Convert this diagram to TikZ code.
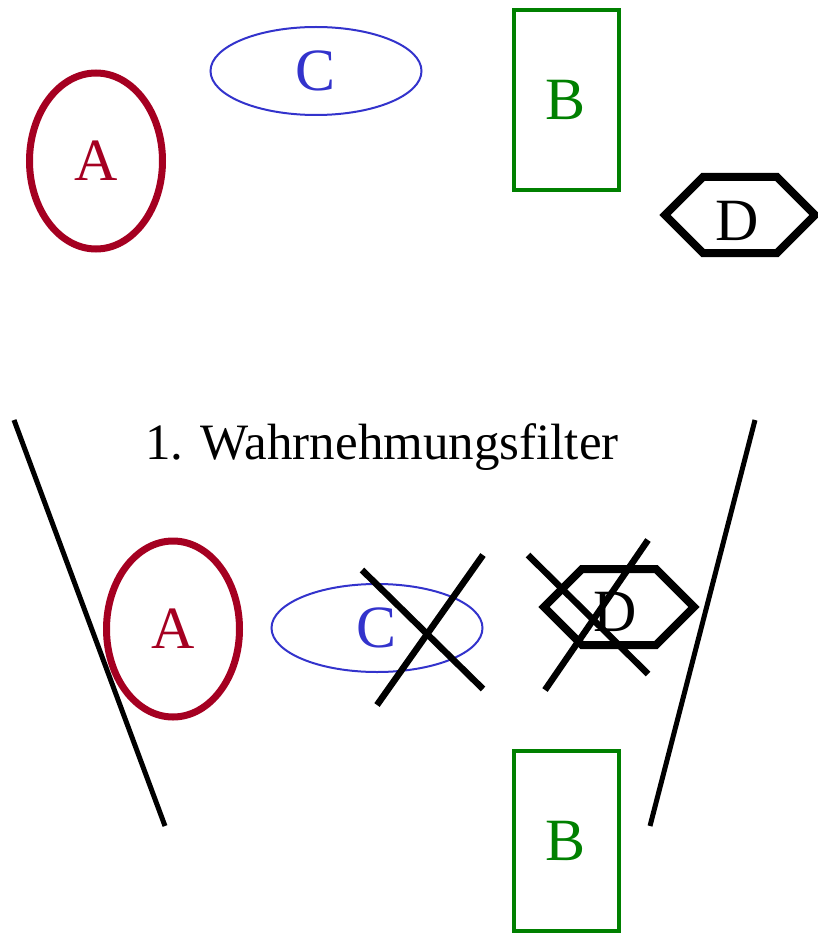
\documentclass[tikz,border=0pt]{standalone}
\usepackage{fontspec}
\setmainfont{Liberation Serif}
\usetikzlibrary{shapes.geometric}
\definecolor{ared}{HTML}{A50021}
\definecolor{cblue}{HTML}{3333CC}
\definecolor{bgreen}{HTML}{008000}
\tikzset{
  lbl/.style={font=\fontsize{60}{60}\selectfont, inner sep=0pt},
  ashape/.style={ellipse, draw=ared, line width=7pt, minimum width=133pt, minimum height=176pt, text=ared, lbl},
  cshape/.style={ellipse, draw=cblue, line width=2pt, minimum width=211pt, minimum height=88pt, text=cblue, lbl},
  bshape/.style={rectangle, draw=bgreen, line width=4pt, minimum width=105pt, minimum height=180pt, text=bgreen, lbl},
  hexline/.style={line width=8pt, line join=miter},
  cross/.style={line width=6.5pt},
  funnel/.style={line width=5pt},
}
\newcommand{\hexaround}[1]{%
  \draw[hexline] ([shift={(-75pt,0pt)}]#1) -- ([shift={(-37pt,38pt)}]#1) -- ([shift={(37pt,38pt)}]#1) -- ([shift={(75pt,0pt)}]#1) -- ([shift={(37pt,-38pt)}]#1) -- ([shift={(-37pt,-38pt)}]#1) -- cycle;}
\begin{document}
\begin{tikzpicture}[x=1pt,y=-1pt]
\useasboundingbox (0,0) rectangle (817,933);
% top row
\node[ashape] (A1) at (96,161) {A};
\node[cshape] (C1) at (316,71) {C};
\node[bshape] (B1) at (566,100) {B};
\coordinate (H1) at (740,215);
\hexaround{H1}
\node[lbl] (D1) at (737,221) {D};
% funnel
\coordinate (FL1) at (14,420);
\coordinate (FL2) at (165,826);
\coordinate (FR1) at (755,420);
\coordinate (FR2) at (650,826);
\draw[funnel] (FL1) -- (FL2);
\draw[funnel] (FR1) -- (FR2);
\node[font=\fontsize{51}{51}\selectfont, inner sep=0pt] (T) at (382,447) {1. Wahrnehmungsfilter};
% bottom
\node[ashape] (A2) at (173,629) {A};
\node[cshape] (C2) at (377,628) {C};
\node[bshape] (B2) at (566,841) {B};
\coordinate (H2) at (619,607);
\hexaround{H2}
\node[lbl] (D2) at (615,612) {D};
% crosses
\coordinate (XC1) at (362,570);
\coordinate (XC2) at (483,689);
\coordinate (XC3) at (483,555);
\coordinate (XC4) at (377,705);
\draw[cross] (XC1) -- (XC2);
\draw[cross] (XC3) -- (XC4);
\coordinate (XD1) at (528,555);
\coordinate (XD2) at (648,674);
\coordinate (XD3) at (648,540);
\coordinate (XD4) at (545,690);
\draw[cross] (XD1) -- (XD2);
\draw[cross] (XD3) -- (XD4);
\end{tikzpicture}
\end{document}
